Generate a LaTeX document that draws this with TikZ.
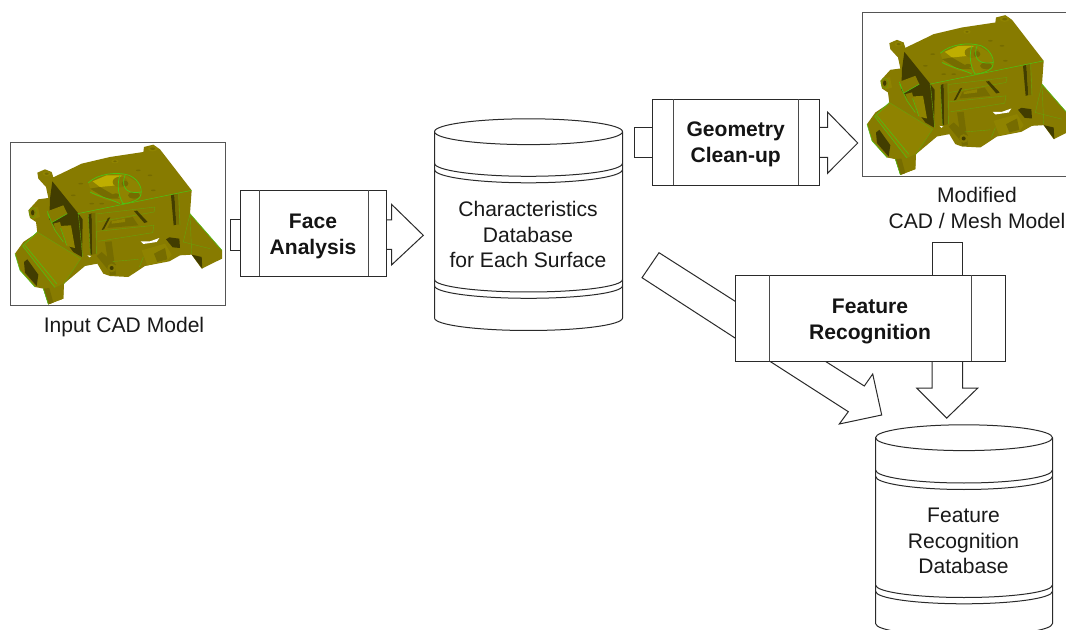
\documentclass[tikz,border=0pt]{standalone}
\usepackage{fontspec}
\setmainfont{Liberation Sans}
\usetikzlibrary{calc}
\definecolor{mbase}{HTML}{877B00}
\definecolor{mdark}{HTML}{423D00}
\definecolor{mmid}{HTML}{766C00}
\definecolor{mlight}{HTML}{8F8300}
\definecolor{medge}{HTML}{4CC414}
\definecolor{myell}{HTML}{BFAE00}
\definecolor{ln}{HTML}{2A2A2A}
\tikzset{
  block/.style={draw=ln,line width=.75pt,line join=miter},
  procbox/.style={draw=ln,line width=.75pt,fill=white,inner sep=0pt,outer sep=0pt},
  divider/.style={draw=ln!85!white,line width=.75pt},
  boldlabel/.style={inner sep=0pt,align=center,font=\fontsize{15.8}{19.5}\selectfont\bfseries,text=black!92},
  dbtext/.style={inner sep=0pt,align=center,font=\fontsize{15.8}{19}\selectfont,text=black!90},
  caplabel/.style={inner sep=0pt,align=center,font=\fontsize{15.8}{19.5}\selectfont,text=black!90},
  frameline/.style={draw=ln!80!white,line width=.75pt},
  cyl/.style={draw=ln,line width=.75pt,fill=white},
  medgeline/.style={draw=medge,line width=.4pt},
  mthinline/.style={draw=medge!55!mbase,line width=.3pt}
}
\newcommand{\camodel}[2]{%
\begin{scope}[shift={(#1,#2)},x=.25pt,y=-.25pt]
 % silhouette
 \fill[mbase,line join=round] (15,335) -- (40,300) -- (82,272) -- (78,240) -- (60,228) -- (55,205) -- (85,172) -- (115,168) -- (108,135) -- (85,110) -- (82,92) -- (105,82) -- (125,90) -- (130,106) -- (180,82) -- (215,65) -- (300,45) -- (400,30) -- (402,15) -- (430,8) -- (450,22) -- (545,145) -- (540,215) -- (636,325) -- (636,350) -- (575,380) -- (545,338) -- (510,340) -- (478,358) -- (405,372) -- (355,405) -- (300,402) -- (280,395) -- (262,365) -- (225,372) -- (162,425) -- (160,470) -- (115,487) -- (100,440) -- (75,435) -- (30,385) -- cycle;
 % pocket
 \fill[mdark] (127,118) -- (203,212) -- (218,232) -- (216,345) -- (190,330) -- (118,232) -- (120,170) -- cycle;
 % parts in pocket
 \fill[mbase] (112,208) -- (160,190) -- (172,215) -- (125,242) -- cycle;
 \fill[mlight] (150,252) -- (183,250) -- (195,318) -- (170,312) -- cycle;
 \fill[mbase] (130,245) -- (150,240) -- (165,300) -- (150,290) -- cycle;
 \draw[medgeline] (112,208) -- (125,242) -- (172,215) (113,215) -- (135,265) -- (160,300);
 \draw[medgeline] (152,258) -- (170,310);
 % left boss
 \fill[mlight] (62,198) -- (84,194) -- (90,225) -- (70,232) -- cycle;
 \fill[mbase] (68,212) ellipse [x radius=11,y radius=15];
 \fill[mdark] (68,212) ellipse [x radius=5,y radius=8];
 \draw[mthinline] (68,212) ellipse [x radius=11,y radius=15];
 % sloped flange
 \fill[mlight] (82,270) -- (190,335) -- (212,350) -- (162,425) -- (135,437) -- (38,312) -- cycle;
 \draw[medgeline] (38,312) -- (135,437) (82,270) -- (38,312) (45,310) -- (140,425);
 \draw[mthinline] (82,270) -- (212,350) -- (162,425) -- (135,437);
 % lower-left window and foot
 \fill[mdark] (42,360) -- (52,352) -- (85,398) -- (80,432) -- (45,392) -- cycle;
 \fill[mbase] (100,440) -- (135,437) -- (160,425) -- (160,470) -- (115,487) -- cycle;
 \fill[mmid] (100,440) -- (118,438) -- (130,482) -- (115,487) -- cycle;
 \draw[medgeline] (15,335) -- (30,385) -- (75,435) (100,440) -- (115,487);
 % ribs on the front
 \fill[mdark] (235,218) -- (245,214) -- (247,338) -- (241,338) -- cycle;
 \fill[mmid] (245,214) -- (256,212) -- (258,335) -- (247,338) -- cycle;
 \fill[mdark] (483,160) -- (493,157) -- (499,248) -- (491,250) -- cycle;
 \fill[mmid] (493,157) -- (504,154) -- (508,248) -- (499,248) -- cycle;
 \draw[mthinline] (235,218) -- (241,338) (258,212) -- (260,335) (506,154) -- (510,250);
 % edges of the front face
 \draw[medgeline] (203,215) -- (545,145);
 \draw[mthinline] (205,215) -- (218,345);
 \draw[mthinline] (258,216) -- (435,195) -- (432,210) -- (262,240);
 % recess under the top rib
 \fill[mdark] (294,228) -- (301,226) -- (282,262) -- (275,264) -- cycle;
 \fill[mdark] (372,207) -- (381,206) -- (413,240) -- (403,243) -- cycle;
 \fill[mmid] (302,238) -- (368,225) -- (385,250) -- (292,258) -- cycle;
 \fill[mlight] (305,238) -- (345,230) -- (345,240) -- (305,245) -- cycle;
 \draw[mthinline] (262,268) -- (432,250) -- (428,272) -- (265,298);
 % central cylinder
 \fill[mbase] (285,300) -- (385,290) -- (388,375) -- (355,402) -- (300,400) -- cycle;
 \fill[mmid] (285,300) -- (305,298) -- (318,398) -- (300,400) -- cycle;
 \draw[mthinline] (290,360) -- (385,352) (388,375) -- (400,345);
 \fill[white] (392,298) -- (420,298) -- (448,288) -- (440,300) -- (400,306) -- cycle;
 % right lower arch and gaps
 \fill[mdark] (468,292) -- (478,286) -- (508,290) -- (510,318) -- (488,316) -- cycle;
 \fill[mlight] (395,325) -- (465,305) -- (485,338) -- (472,356) -- (412,370) -- cycle;
 \fill[mmid] (432,335) -- (465,318) -- (472,352) -- (442,360) -- cycle;
 \fill[mdark] (545,338) -- (575,345) -- (577,380) -- cycle;
 \draw[mthinline] (540,215) -- (520,300) -- (600,320) (540,215) -- (545,335);
 \draw[medgeline] (540,215) -- (636,325);
 % small bolt
 \fill[mmid] (260,342) -- (275,330) -- (318,368) -- (298,388) -- cycle;
 \fill[mbase] (305,378) circle [radius=13];
 \fill[mdark] (305,378) circle [radius=6];
 \fill[white] (232,340) -- (244,342) -- (238,346) -- cycle;
 % top-face dome
 \fill[mlight] (235,122) -- (285,100) -- (340,95) -- (388,125) -- (392,160) -- (345,185) -- (290,175) -- (245,155) -- cycle;
 \fill[myell] (248,118) -- (290,100) -- (335,100) -- (320,130) -- (270,135) -- cycle;
 \fill[mmid] (240,140) -- (270,135) -- (330,170) -- (290,170) -- cycle;
 \fill[mbase] (330,120) ellipse [x radius=22,y radius=16];
 \fill[mmid] (345,125) ellipse [x radius=10,y radius=9];
 \fill[mmid] (372,160) ellipse [x radius=18,y radius=10];
 \fill[mmid] (318,160) ellipse [x radius=10,y radius=6];
 \draw[medgeline,line width=.55pt] (235,122) .. controls (265,95) and (320,88) .. (358,100) .. controls (390,115) and (400,145) .. (390,165) .. controls (380,178) and (350,185) .. (335,185) (330,100) .. controls (320,125) and (325,165) .. (340,185) (345,100) .. controls (335,125) and (340,160) .. (392,150) (240,150) .. controls (270,165) and (300,170) .. (330,185);
 % small holes on the top
 \fill[mlight] (110,95) ellipse [x radius=12,y radius=7];
 \fill[mmid] (110,95) ellipse [x radius=6,y radius=3.5];
 \fill[mlight] (428,20) ellipse [x radius=15,y radius=8];
 \fill[mmid] (428,20) ellipse [x radius=7.5,y radius=4];
 \fill[mlight] (315,58) ellipse [x radius=11,y radius=6];
 \fill[mmid] (315,58) ellipse [x radius=5.5,y radius=3];
 \foreach \hx/\hy in {212/125,190/160,245/185,430/145,420/100,385/85,275/185}{
   \fill[mmid] (\hx,\hy) ellipse [x radius=7,y radius=2.5];
 }
\end{scope}}
\newcommand{\dbcyl}[6]{% x1 x2 ytop yband-a yband-b ybottom
 \pgfmathsetmacro{\dbrx}{(#2-#1)/2}
 \filldraw[cyl] (#1,#3) -- (#1,#6) arc[start angle=180,end angle=0,x radius=\dbrx,y radius=12.5] -- (#2,#3) arc[start angle=0,end angle=-180,x radius=\dbrx,y radius=12.9] -- cycle;
 \draw[cyl,fill=none] (#1,#3) arc[start angle=180,end angle=0,x radius=\dbrx,y radius=12.9];
 \draw[cyl,fill=none] (#1,#4) arc[start angle=180,end angle=0,x radius=\dbrx,y radius=13];
 \draw[cyl,fill=none] (#1,#4+6.3) arc[start angle=180,end angle=0,x radius=\dbrx,y radius=13.2];
 \draw[cyl,fill=none] (#1,#5) arc[start angle=180,end angle=0,x radius=\dbrx,y radius=12.5];
 \draw[cyl,fill=none] (#1,#5+6.3) arc[start angle=180,end angle=0,x radius=\dbrx,y radius=12.5];
}
\begin{document}
\begin{tikzpicture}[x=.75pt,y=-.75pt]
\useasboundingbox (0,0) rectangle (1066,630);
\fill[white] (0,0) rectangle (1066,630);
\clip (0,0) rectangle (1066,630);
% ---------- models
\camodel{10}{142}
\draw[frameline] (10.5,142.5) rectangle (225.5,305.5);
\node[caplabel,anchor=base] (inputcap) at (124,332.5) {Input CAD Model};
\begin{scope}
 \clip (862,12) rectangle (1066,178);
 \camodel{862}{12.5}
\end{scope}
\draw[frameline] (1066,12.5) -- (862.5,12.5) -- (862.5,176.5) -- (1066,176.5);
\node[caplabel] (modcap) at (977,207.5) {Modified\\CAD / Mesh Model};
% ---------- databases
\dbcyl{434.5}{622.5}{131.7}{163.3}{279.5}{318}
\node[dbtext] (chardb) at (528,234.5) {Characteristics\\Database\\for Each Surface};
\dbcyl{875.5}{1052.5}{437.7}{470}{585}{623.5}
\node[dbtext] (featdb) at (963.5,541) {Feature\\Recognition\\Database};
% ---------- process boxes
\node[procbox,minimum width=109.5pt,minimum height=64.5pt] (face) at (313.5,233.5) {};
\draw[divider] ($(face.north west)+(18.5,0)$) -- ($(face.south west)+(18.5,0)$);
\draw[divider] ($(face.north east)+(-18,0)$) -- ($(face.south east)+(-18,0)$);
\node[boldlabel] (facelabel) at (313,236.5) {Face\\Analysis};
\node[procbox,minimum width=125.25pt,minimum height=64.5pt] (geom) at (736,142.5) {};
\draw[divider] ($(geom.north west)+(21,0)$) -- ($(geom.south west)+(21,0)$);
\draw[divider] ($(geom.north east)+(-21,0)$) -- ($(geom.south east)+(-21,0)$);
\node[boldlabel] (geomlabel) at (735.7,144.5) {Geometry\\Clean-up};
\node[procbox,minimum width=202.5pt,minimum height=64.5pt] (feat) at (870.5,318.5) {};
\draw[divider] ($(feat.north west)+(34,0)$) -- ($(feat.south west)+(34,0)$);
\draw[divider] ($(feat.north east)+(-34,0)$) -- ($(feat.south east)+(-34,0)$);
\node[boldlabel] (featlabel) at (870,321) {Feature\\Recognition};
% ---------- block arrows
\draw[block] (face.west) ++(0,-14) -- ++(-10.5,0) -- ++(0,31) -- ++(10.5,0);
\draw[block] (face.east) ++(0,-13.5) -- ++(5,0) -- ++(0,-15.7) -- (423.3,235.3) -- (391.5,265) -- (391.5,249.5) -- (face.east |- 0,249.5);
\draw[block] (geom.west) ++(0,-15) -- ++(-18,0) -- ++(0,30) -- ++(18,0);
\draw[block] (geom.east) ++(0,-15) -- ++(8,0) -- ++(0,-15.5) -- (857.7,143) -- (827.5,173.3) -- (827.5,157.5) -- (geom.east |- 0,157.5);
\draw[block] (feat.north) ++(61.5,0) -- ++(0,-33) -- ++(30.5,0) -- ++(0,33);
\draw[block] (feat.south) ++(61.5,0) -- ++(0,26.6) -- ++(-15.3,0) -- ++(30,30) -- ++(31,-30) -- ++(-15.2,0) -- ++(0,-26.6);
\draw[block] (feat.west) ++(0,-17) -- (659,252.7) -- (642,277.7) -- (735.5,338.3);
\draw[block] (feat.south west) ++(34.7,0) -- (848.3,411.7) -- (839.3,424) -- (881.7,415) -- (872.7,374) -- (864.3,386) -- (826,361.7);
\end{tikzpicture}
\end{document}
